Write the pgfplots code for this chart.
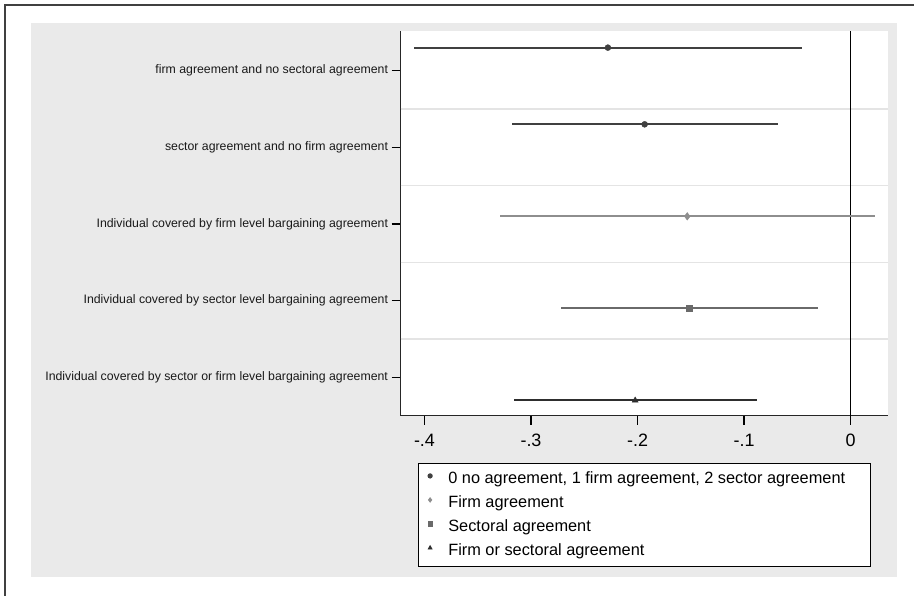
\documentclass[border=0pt]{standalone}
\usepackage{fontspec}
\setmainfont{Liberation Sans}
\usepackage{pgfplots}
\pgfplotsset{compat=1.18}

\definecolor{bggray}{HTML}{EAEAEA}
\definecolor{serA}{HTML}{404040}
\definecolor{serB}{HTML}{8E8E8E}
\definecolor{serC}{HTML}{6A6A6A}
\definecolor{serD}{HTML}{2E2E2E}
\definecolor{gridgray}{HTML}{E4E4E4}

\begin{document}
\begin{tikzpicture}[x=1bp,y=1bp]
\useasboundingbox (0,0) rectangle (914,596);
\fill[white] (0,0) rectangle (914,596);
\fill[bggray] (31,19) rectangle (897,573);
\draw[line width=1.5bp, black!75] (5,0) -- (5,591) -- (914,591);
\begin{axis}[
    at={(376,235)}, anchor=south west,
    scale only axis, width=487bp, height=385bp,
    xmin=-0.4225, xmax=0.0347,
    ymin=0.5, ymax=5.52,
    axis x line*=bottom, axis y line*=left,
    axis line style={line width=1.3bp, black!85},
    axis background/.style={fill=white},
    tick align=outside,
    major tick length=9bp,
    tick style={line width=1.3bp, black},
    xtick={-0.4,-0.3,-0.2,-0.1,0},
    xticklabels={-.4,-.3,-.2,-.1,0},
    ytick={1,2,3,4,5},
    yticklabels={
        Individual covered by sector or firm level bargaining agreement,
        Individual covered by sector level bargaining agreement,
        Individual covered by firm level bargaining agreement,
        sector agreement and no firm agreement,
        firm agreement and no sectoral agreement},
    xticklabel style={font=\fontsize{18}{20}\selectfont, yshift=-6bp},
    yticklabel style={font=\fontsize{12.35}{14}\selectfont, text=black!90},
    extra y ticks={1.5,2.5,3.5,4.5},
    extra y tick labels={},
    extra y tick style={grid=major, major tick length=0pt,
        major grid style={gridgray, line width=1.5bp}},
    legend cell align=left,
    legend style={at={(0.0349,-0.1221)}, anchor=north west,
        draw=black, fill=white, line width=0.8bp,
        inner xsep=10bp, inner ysep=8bp,
        row sep=8.5bp, column sep=16bp,
        font=\fontsize{16.4}{18}\selectfont,
        nodes={inner sep=0pt, text height=12bp, text depth=3.5bp}},
    legend image code/.code={
        \draw[#1, only marks, mark size=2.2bp] plot coordinates {(0bp,3bp)};},
]
% zero reference line
\addplot[black, line width=1.8bp, forget plot] coordinates {(0,0.5) (0,5.52)};

% estimate +- half CI width
\addplot[serA, only marks, mark=*, mark size=3bp,
    error bars/.cd, x dir=both, x explicit, error mark=none,
    error bar style={line width=2bp, serA}]
    coordinates {(-0.2278,5.3) +- (0.1818,0) (-0.1933,4.3) +- (0.1250,0)};
\addlegendentry{0 no agreement, 1 firm agreement, 2 sector agreement\hspace*{15bp}}

\addplot[serB, only marks, mark=diamond*, mark size=3.8bp,
    error bars/.cd, x dir=both, x explicit, error mark=none,
    error bar style={line width=2bp, serB}]
    coordinates {(-0.1533,3.1) +- (0.1759,0)};
\addlegendentry{Firm agreement}

\addplot[serC, only marks, mark=square*, mark size=2.8bp,
    error bars/.cd, x dir=both, x explicit, error mark=none,
    error bar style={line width=2bp, serC}]
    coordinates {(-0.1512,1.9) +- (0.1208,0)};
\addlegendentry{Sectoral agreement}

\addplot[serD, only marks, mark=triangle*, mark size=3.5bp,
    error bars/.cd, x dir=both, x explicit, error mark=none,
    error bar style={line width=2bp, serD}]
    coordinates {(-0.2022,0.7) +- (0.1142,0)};
\addlegendentry{Firm or sectoral agreement}
\end{axis}
\end{tikzpicture}
\end{document}
